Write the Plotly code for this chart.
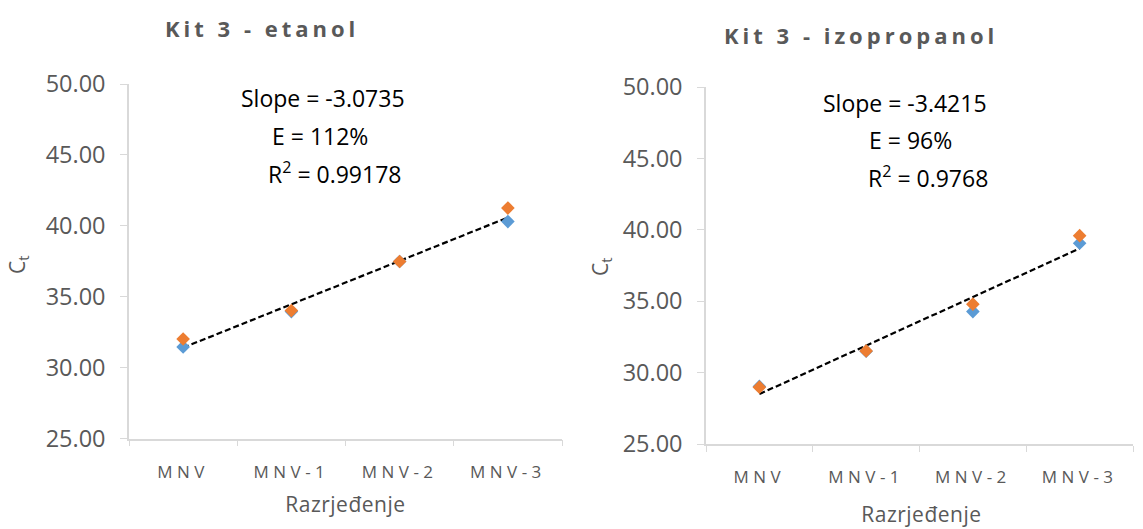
import plotly.graph_objects as go
import numpy as np

categories = ["MNV", "MNV-1", "MNV-2", "MNV-3"]
etanol_s1 = [31.46, 33.95, 37.48, 40.30]
etanol_s2 = [32.02, 34.02, 37.48, 41.25]
izo_s1 = [29.03, 31.50, 34.27, 39.06]
izo_s2 = [28.98, 31.52, 34.79, 39.59]
titles = ["Kit 3 - etanol", "Kit 3 - izopropanol"]
stats_etanol = ["Slope = -3.0735", "E = 112%", "R<sup>2</sup> = 0.99178"]
stats_izo = ["Slope = -3.4215", "E = 96%", "R<sup>2</sup> = 0.9768"]
y_ticks = [25, 30, 35, 40, 45, 50]

BLUE = "#5B9BD5"
ORANGE = "#ED7D31"
GRAY = "#595959"
AXIS = "#D9D9D9"
FONT = "Open Sans"

W, H = 1143, 529
def px_x(p): return p / W
def px_y(p): return 1 - p / H

fig = go.Figure()

panels = [
    dict(s1=etanol_s1, s2=etanol_s2, xa="x", ya="y",
         dx=[px_x(129), px_x(562)], dy=[px_y(438.5), px_y(84)]),
    dict(s1=izo_s1, s2=izo_s2, xa="x2", ya="y2",
         dx=[px_x(706), px_x(1133)], dy=[px_y(444), px_y(87)]),
]

for p in panels:
    xi = np.arange(1, len(categories) + 1)
    allx = np.concatenate([xi, xi])
    ally = np.concatenate([p["s1"], p["s2"]])
    k, b = np.polyfit(allx, ally, 1)
    trend = k * xi + b
    fig.add_trace(go.Scatter(x=[categories[0], categories[-1]], y=[trend[0], trend[-1]],
                             mode="lines", line=dict(color="black", width=2.2, dash="6px,3px"),
                             xaxis=p["xa"], yaxis=p["ya"], showlegend=False, hoverinfo="skip"))
    fig.add_trace(go.Scatter(x=categories, y=p["s1"], mode="markers",
                             marker=dict(symbol="diamond", size=10.5, color=BLUE),
                             xaxis=p["xa"], yaxis=p["ya"], showlegend=False))
    fig.add_trace(go.Scatter(x=categories, y=p["s2"], mode="markers",
                             marker=dict(symbol="diamond", size=10.5, color=ORANGE),
                             xaxis=p["xa"], yaxis=p["ya"], showlegend=False))

xcommon = dict(type="category", categoryorder="array", categoryarray=categories,
               tickson="boundaries", ticks="outside", ticklen=6, tickcolor=AXIS,
               showline=True, linecolor=AXIS, linewidth=1.5, showgrid=False, zeroline=False,
               tickfont=dict(family=FONT, size=17, color=GRAY), range=[-0.5, 3.5],
               ticklabelstandoff=17)
ycommon = dict(range=[25, 50], tickvals=y_ticks, tickformat=".2f", ticks="outside", ticklen=7,
               tickcolor=AXIS, showline=True, linecolor=AXIS, linewidth=1.5, showgrid=False,
               zeroline=False, tickfont=dict(family=FONT, size=23.5, color=GRAY),
               ticklabelstandoff=10)

fig.update_layout(
    width=W, height=H, margin=dict(l=0, r=0, t=0, b=0, autoexpand=False),
    plot_bgcolor="white", paper_bgcolor="white",
    xaxis=dict(domain=panels[0]["dx"], anchor="y", **xcommon),
    yaxis=dict(domain=panels[0]["dy"], anchor="x", **ycommon),
    xaxis2=dict(domain=panels[1]["dx"], anchor="y2", **xcommon),
    yaxis2=dict(domain=panels[1]["dy"], anchor="x2", **ycommon),
)

def A(x, y, text, size, color=GRAY, angle=0):
    return dict(x=px_x(x), y=px_y(y), xref="paper", yref="paper", showarrow=False,
                xanchor="center", yanchor="middle", text=text, textangle=angle,
                font=dict(family=FONT, size=size, color=color))

ann = [
    A(262, 28, "<b>" + titles[0] + "</b>", 22),
    A(861, 35, "<b>" + titles[1] + "</b>", 22),
    A(345, 504, "Razrjeđenje", 21),
    A(921, 514, "Razrjeđenje", 21),
    A(18, 265, "C<sub>t</sub>", 21, angle=-90),
    A(601, 267, "C<sub>t</sub>", 21, angle=-90),
]
for stats, xs, ys in [(stats_etanol, [323, 320, 334], [98, 136, 173]),
                      (stats_izo, [905, 910, 928], [103, 140, 177])]:
    for t, xx, yy in zip(stats, xs, ys):
        ann.append(A(xx, yy, t, 23, color="black"))
fig.update_layout(annotations=ann)

post = """
(function(){
  document.documentElement.style.margin = '0';
  document.body.style.margin = '0';
  document.body.style.padding = '0';
  var gd = document.getElementById('{plot_id}');
  function sp(){
    gd.querySelectorAll('.annotation-text').forEach(function(t){
      var u = t.getAttribute('data-unformatted') || '';
      if (u.indexOf('Kit') >= 0) { t.style.letterSpacing = '4px'; }
      if (u.indexOf('Razrje') >= 0) { t.style.letterSpacing = '0.5px'; }
    });
    gd.querySelectorAll('g.xtick text, g.x2tick text').forEach(function(t){
      t.style.letterSpacing = '4.5px';
    });
  }
  sp();
  gd.on('plotly_afterplot', sp);
})();
"""
fig.write_html("out.html", post_script=post, config={"displayModeBar": False})
